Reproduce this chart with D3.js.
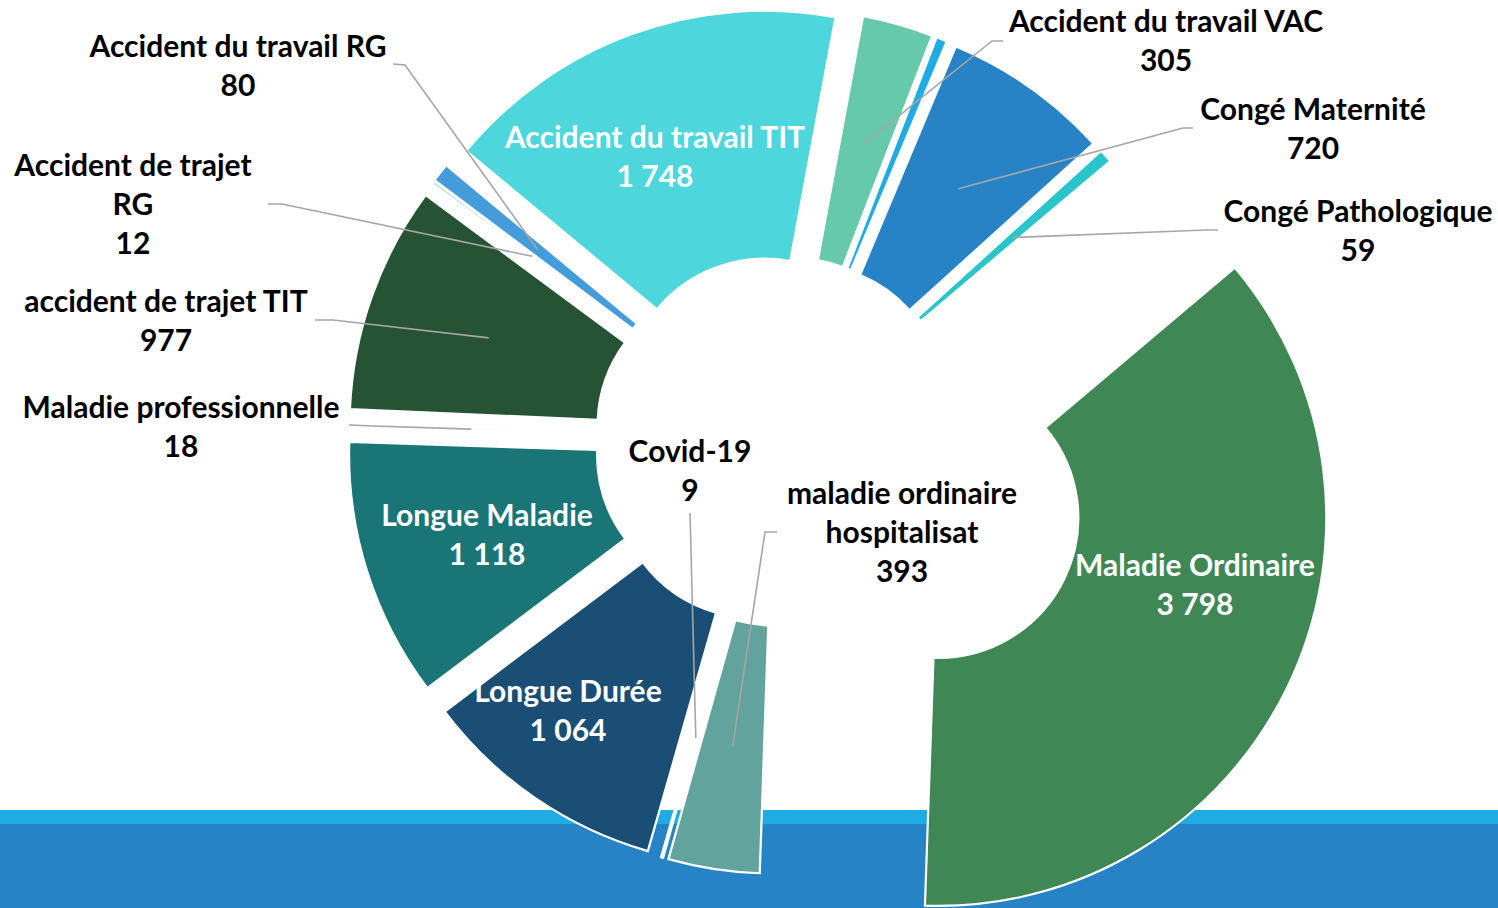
<!DOCTYPE html>
<html>
<head>
<meta charset="utf-8">
<script src="https://cdn.jsdelivr.net/npm/d3@7"></script>
<style>
	body { margin: 0; background: #fff; overflow: hidden; }
	svg { display: block; }
	.lbl { font-family: Lato, 'Open Sans', sans-serif; font-weight: bold; font-size: 30px; }
</style>
</head>
<body>
<svg id="chart" width="1498" height="908"></svg>
<script>
// slices, clockwise (the pie is rotated, see startDeg)
var categories = ['Accident du travail TIT', 'Accident du travail VAC', '', 'Congé Maternité', 'Congé Pathologique',
	'Maladie Ordinaire', 'maladie ordinaire hospitalisat', 'Covid-19', 'Longue Durée', 'Longue Maladie',
	'Maladie professionnelle', 'accident de trajet TIT', 'Accident de trajet RG', 'Accident du travail RG'];
var values = [1748, 305, 46, 720, 59, 3798, 393, 9, 1064, 1118, 18, 977, 12, 80];

var colors = ['#4dd6db', '#66c9aa', '#1eace3', '#2883c6', '#2ac5ca', '#3f8856', '#62a39e', '#1eace3',
	'#1a4e74', '#1a7577', '#f4f4f4', '#255333', '#66c9aa', '#449dda'];

// where excel put the labels (center x, first line middle y)
var labelAt = {
	'Accident du travail TIT': [655, 138, '#fff'],
	'Accident du travail VAC': [1166, 22, '#000'],
	'Congé Maternité': [1313, 110, '#000'],
	'Congé Pathologique': [1358, 212, '#000'],
	'Maladie Ordinaire': [1195, 566, '#fff'],
	'maladie ordinaire hospitalisat': [902, 494, '#000'],
	'Covid-19': [690, 452, '#000'],
	'Longue Durée': [568, 692, '#fff'],
	'Longue Maladie': [487, 516, '#fff'],
	'Maladie professionnelle': [181, 408, '#000'],
	'accident de trajet TIT': [166, 302, '#000'],
	'Accident de trajet RG': [133, 166, '#000'],
	'Accident du travail RG': [238, 47, '#000']
};
var labelBreaks = {
	'maladie ordinaire hospitalisat': ['maladie ordinaire', 'hospitalisat'],
	'Accident de trajet RG': ['Accident de trajet', 'RG']
};
// leader lines start near the label, end on the slice centroid
var leaderFrom = {
	'Accident du travail VAC': [[1003, 41], [992, 41]],
	'Congé Maternité': [[1193, 128], [1183, 128]],
	'Congé Pathologique': [[1218, 230], [1206, 230]],
	'maladie ordinaire hospitalisat': [[777, 532], [765, 532]],
	'Covid-19': [[690, 513]],
	'Maladie professionnelle': [[349, 425], [372, 426]],
	'accident de trajet TIT': [[315, 320], [333, 320]],
	'Accident de trajet RG': [[268, 204], [282, 204]],
	'Accident du travail RG': [[393, 64], [405, 65]]
};

var conf = {
	cx: 780, cy: 441,
	inner: 140, outer: 388,
	startDeg: -50.3,
	explode: 45,
	explodeBig: {'Maladie Ordinaire': 176},
	lineH: 39
};

var svg = d3.select('#chart');
var fmt = d3.formatLocale({decimal: ',', thousands: '\u00a0', grouping: [3], currency: ['', '']}).format(',d');

// blue band at the bottom of the slide
svg.append('rect').attr('x', 0).attr('y', 810).attr('width', 1498).attr('height', 14).attr('fill', '#1eace3');
svg.append('rect').attr('x', 0).attr('y', 824).attr('width', 1498).attr('height', 84).attr('fill', '#2683c6');

var data = categories.map(function (c, i) { return {name: c, value: values[i], color: colors[i]}; });

var start = conf.startDeg * Math.PI / 180;
var pie = d3.pie().sort(null).value(function (d) { return d.value; })
	.startAngle(start).endAngle(start + 2 * Math.PI);
var arc = d3.arc().innerRadius(conf.inner).outerRadius(conf.outer);
var arcs = pie(data);

function offset(d) {
	var e = conf.explodeBig[d.data.name] || conf.explode,
		mid = (d.startAngle + d.endAngle) / 2;
	return [e * Math.sin(mid), -e * Math.cos(mid)];
}

var g = svg.append('g').attr('transform', 'translate(' + conf.cx + ',' + conf.cy + ')');

g.selectAll('path.slice').data(arcs).enter().append('path')
	.attr('class', 'slice')
	.attr('transform', function (d) { var o = offset(d); return 'translate(' + o[0] + ',' + o[1] + ')'; })
	.attr('d', arc)
	.attr('fill', function (d) { return d.data.color; })
	.attr('stroke', '#fff')
	.attr('stroke-width', 2.2)
	.attr('stroke-linejoin', 'miter');

// leader lines
var line = d3.line();
arcs.forEach(function (d) {
	var from = leaderFrom[d.data.name];
	if (!from) return;
	var o = offset(d), c = arc.centroid(d);
	var pts = from.concat([[conf.cx + o[0] + c[0], conf.cy + o[1] + c[1]]]);
	svg.append('path').attr('d', line(pts))
		.attr('fill', 'none').attr('stroke', '#a6a6a6').attr('stroke-width', 1.6);
});

// labels
arcs.forEach(function (d) {
	var at = labelAt[d.data.name];
	if (!at) return;
	var lines = (labelBreaks[d.data.name] || [d.data.name]).concat([fmt(d.data.value)]);
	var t = svg.append('text').attr('class', 'lbl').attr('fill', at[2]).attr('text-anchor', 'middle');
	lines.forEach(function (s, i) {
		t.append('tspan').attr('x', at[0]).attr('y', at[1] + i * conf.lineH + 10).text(s);
	});
});
</script>
</body>
</html>
